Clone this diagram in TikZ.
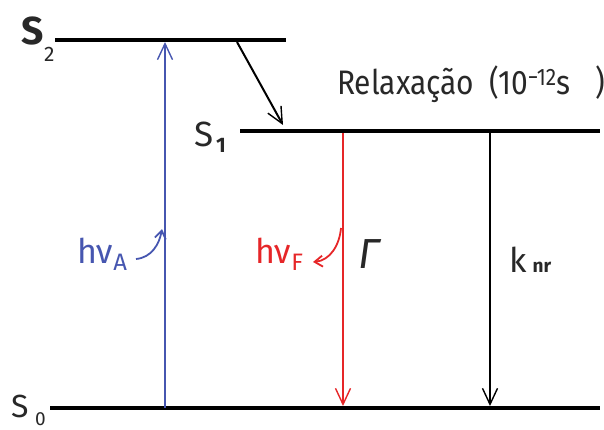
\documentclass[tikz,border=0pt]{standalone}
\usepackage{fontspec}
\usepackage{graphicx}
\setmainfont{Fira Sans}
\usetikzlibrary{arrows.meta, positioning}
\definecolor{absc}{RGB}{70,86,176}
\definecolor{fluoc}{RGB}{230,38,40}
\definecolor{inkc}{RGB}{40,40,40}
\newcommand{\narrowtxt}[1]{\scalebox{0.88}[1]{#1}}

\begin{document}
\begin{tikzpicture}[x=1pt,y=-1pt, font=\fontsize{34}{36}\selectfont, text=inkc,
  level/.style={draw=black, line width=3.6pt},
  trans/.style={line width=1.4pt, -{Straight Barb[length=16pt,width=15pt,line width=1.4pt]}},
  photon/.style={line width=1.8pt, -{Straight Barb[length=8pt,width=11pt,line width=1.8pt]}},
  statelbl/.style={inner sep=0pt, anchor=base west},
]
\useasboundingbox (0,0) rectangle (604,430);
% ---------- levels ----------
\coordinate (S2l) at (55,40);  \coordinate (S2r) at (286,40);
\coordinate (S1l) at (240,131); \coordinate (S1r) at (600,131);
\coordinate (S0l) at (50,408);  \coordinate (S0r) at (600,408);
\draw[level] (S2l) -- (S2r);
\draw[level] (S1l) -- (S1r);
\draw[level] (S0l) -- (S0r);
\node[statelbl, font=\fontsize{39}{39}\selectfont\bfseries] (s2) at (21,45) {S};
\node[statelbl, font=\fontsize{21}{21}\selectfont] (s2n) at (44,62) {2};
\node[statelbl, font=\fontsize{35}{35}\selectfont] (s1) at (194,147) {S};
\node[statelbl, font=\fontsize{21}{21}\selectfont\bfseries] (s1n) at (216,153) {1};
\node[statelbl, font=\fontsize{32}{32}\selectfont] (s0) at (11,417) {S};
\node[statelbl, font=\fontsize{19}{19}\selectfont] (s0n) at (35,425) {0};
% ---------- transitions ----------
\coordinate (A0) at (165,408); \coordinate (A2) at (165,42);
\coordinate (F1) at (343,133); \coordinate (F0) at (343,406);
\coordinate (K1) at (490,133); \coordinate (K0) at (490,406);
\coordinate (R2) at (237,42);  \coordinate (R1) at (283,125);
\draw[trans, draw=absc] (A0) -- (A2);
\draw[trans, draw=fluoc] (F1) -- (F0);
\draw[trans] (K1) -- (K0);
\draw[trans, line width=2pt] (R2) -- (R1);
% ---------- labels ----------
\node[statelbl, text=absc, font=\fontsize{34}{34}\selectfont] (hva) at (77,263) {hν\textsubscript{A}};
\coordinate (pa) at (136,259); \coordinate (pa2) at (162,229);
\draw[photon, draw=absc] (pa) to[out=5, in=-100] (pa2);
\node[statelbl, text=fluoc, font=\fontsize{34}{34}\selectfont] (hvf) at (255,263) {hν\textsubscript{F}};
\coordinate (pf) at (341,228); \coordinate (pf2) at (313,262);
\draw[photon, draw=fluoc] (pf) to[out=-95, in=5] (pf2);
\node[statelbl, font=\fontsize{42}{42}\selectfont\itshape] (gam) at (358,268) {Γ};
\node[statelbl] (knr) at (509,272) {k\hspace{6pt}{\fontsize{19}{19}\selectfont\bfseries nr}};
\node[statelbl] (relax) at (337,95) {\narrowtxt{Relaxação\hspace{17pt}(10\textsuperscript{−12}s\hspace{28pt})}};
\end{tikzpicture}
\end{document}
